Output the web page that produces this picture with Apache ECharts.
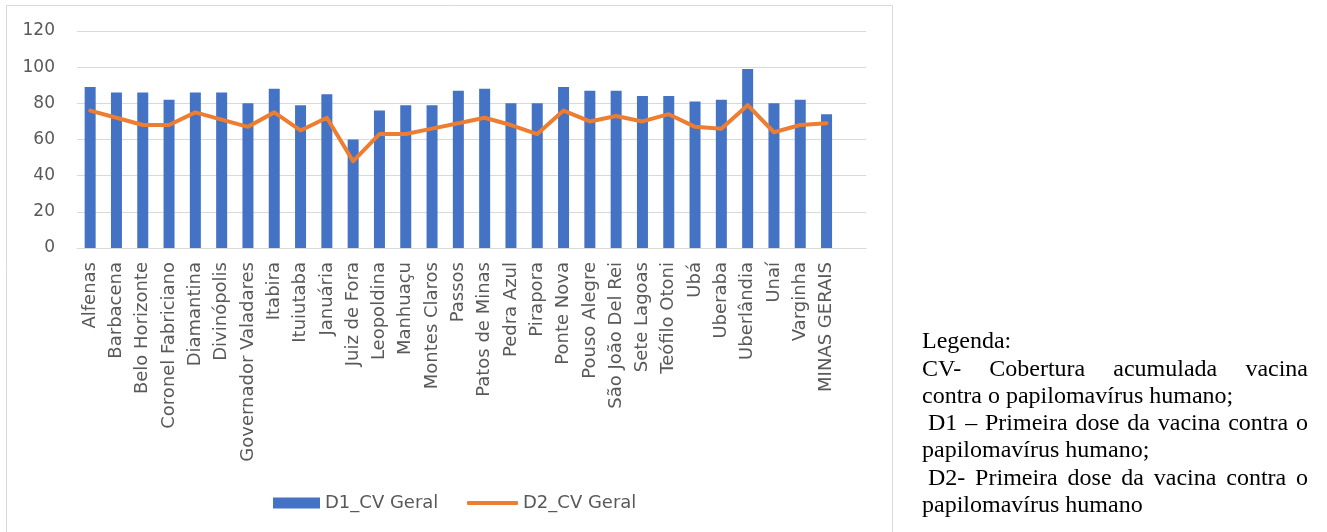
<!DOCTYPE html>
<html>
<head>
<meta charset="utf-8">
<script src="https://cdn.jsdelivr.net/npm/echarts@6/dist/echarts.min.js"></script>
<style>
html,body{margin:0;padding:0;background:#fff;}
#chart{width:1327px;height:532px;}
</style>
</head>
<body>
<div id="chart"></div>
<script>
const categories = ["Alfenas","Barbacena","Belo Horizonte","Coronel Fabriciano","Diamantina","Divinópolis","Governador Valadares","Itabira","Ituiutaba","Januária","Juiz de Fora","Leopoldina","Manhuaçu","Montes Claros","Passos","Patos de Minas","Pedra Azul","Pirapora","Ponte Nova","Pouso Alegre","São João Del Rei","Sete Lagoas","Teófilo Otoni","Ubá","Uberaba","Uberlândia","Unaí","Varginha","MINAS GERAIS",""];
const d1Values = [89,86,86,82,86,86,80,88,79,85,60,76,79,79,87,88,80,80,89,87,87,84,84,81,82,99,80,82,74,null];
const d2Values = [76,72,68,68,75,71,67,75,65,72,48,63,63,66,69,72,68,63,76,70,73,70,74,67,66,79,64,68,69,null];
const yTicks = [0,20,40,60,80,100,120];
const seriesNames = ["D1_CV Geral","D2_CV Geral"];
const noteLines = [
  {text:"Legenda:", justify:false},
  {text:"CV- Cobertura acumulada vacina", justify:true},
  {text:"contra o papilomavírus humano;", justify:false},
  {text:" D1 – Primeira dose da vacina contra o", justify:true},
  {text:"papilomavírus humano;", justify:false},
  {text:" D2- Primeira dose da vacina contra o", justify:true},
  {text:"papilomavírus humano", justify:false}
];

const chart = echarts.init(document.getElementById('chart'), null, {renderer:'canvas'});
const sansFont = '"DejaVu Sans", sans-serif';
const serifFont = '"Liberation Serif", "Times New Roman", serif';
const noteFontSize = 24;

// build justified note text
const cv = document.createElement('canvas').getContext('2d');
cv.font = noteFontSize + 'px ' + serifFont;
const noteLeft = 922, noteRight = 1308, baseTop = 342, lineStep = 27.3;
const graphics = [{
  type:'rect', silent:true,
  shape:{x:6.5,y:5.5,width:886,height:540},
  style:{fill:'none',stroke:'#d9d9d9',lineWidth:1}
}];
noteLines.forEach((ln, i) => {
  const y = baseTop + i*lineStep;
  const font = noteFontSize + 'px ' + serifFont;
  if (!ln.justify) {
    graphics.push({type:'text', silent:true, x:noteLeft, y:y,
      style:{text:ln.text, font:font, fill:'#000', verticalAlign:'middle', align:'left'}});
  } else {
    let startX = noteLeft;
    let t = ln.text;
    if (t.startsWith(' ')) { startX += cv.measureText(' ').width; t = t.trim(); }
    const words = t.split(' ');
    const widths = words.map(w => cv.measureText(w).width);
    const total = widths.reduce((a,b)=>a+b,0);
    const gap = (noteRight - startX - total) / (words.length - 1);
    let x = startX;
    words.forEach((w, k) => {
      graphics.push({type:'text', silent:true, x:x, y:y,
        style:{text:w, font:font, fill:'#000', verticalAlign:'middle', align:'left'}});
      x += widths[k] + gap;
    });
  }
});

const legendText = {fontFamily:sansFont, fontSize:18, color:'#595959'};
const option = {
  animation:false,
  backgroundColor:'#fff',
  grid:{left:77, right:461, top:31, bottom:284},
  legend:[
    {left:268, top:489, itemWidth:47, itemHeight:11, textStyle:legendText,
     data:[{name:seriesNames[0], icon:'rect'}]},
    {left:462, top:489, itemWidth:51, itemHeight:4, textStyle:legendText,
     data:[{name:seriesNames[1], icon:'roundRect'}]}
  ],
  xAxis:{
    type:'category', data:categories,
    axisLine:{lineStyle:{color:'#d9d9d9', width:1}},
    axisTick:{show:false},
    axisLabel:{rotate:90, interval:0, margin:14, fontFamily:sansFont, fontSize:18, color:'#595959'}
  },
  yAxis:{
    type:'value', min:yTicks[0], max:yTicks[yTicks.length-1], interval:yTicks[1]-yTicks[0],
    axisLine:{show:false}, axisTick:{show:false},
    axisLabel:{margin:22, fontFamily:sansFont, fontSize:17, color:'#595959'},
    splitLine:{lineStyle:{color:'#d9d9d9', width:1}}
  },
  series:[
    {name:seriesNames[0], type:'bar', data:d1Values, barWidth:11,
     itemStyle:{color:'#4472C4'}},
    {name:seriesNames[1], type:'line', data:d2Values, symbol:'none',
     lineStyle:{color:'#ED7D31', width:4, cap:'round', join:'round'},
     itemStyle:{color:'#ED7D31'}}
  ],
  graphic:graphics
};
chart.setOption(option);
</script>
</body>
</html>
